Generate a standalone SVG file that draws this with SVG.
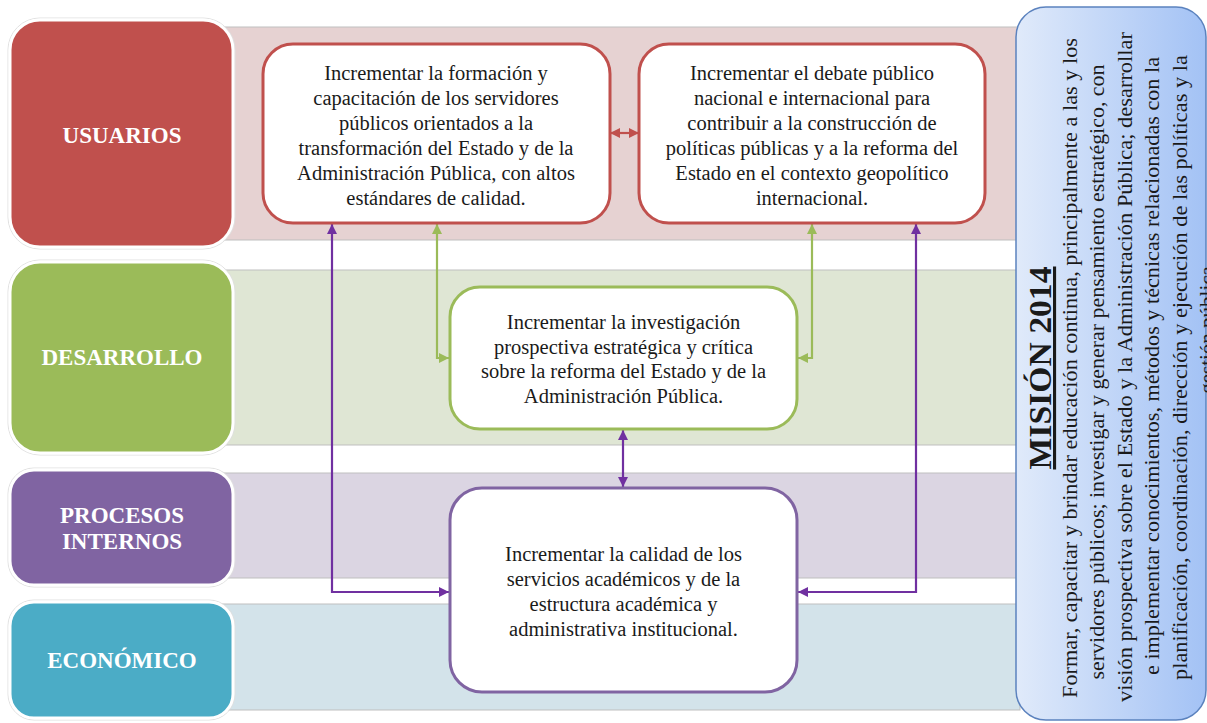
<svg xmlns="http://www.w3.org/2000/svg" width="1207" height="723" viewBox="0 0 1207 723">
<defs>
<style>
.band{stroke:#BFBFBF;stroke-width:1}
.cat{stroke:#FFFFFF;stroke-width:3}
.catlbl{font-family:"Liberation Serif","Times New Roman",serif;font-weight:bold;font-size:23px;fill:#FFFFFF;text-anchor:middle}
.node{fill:#FFFFFF;stroke-width:3}
.ntxt{font-family:"Liberation Serif","Times New Roman",serif;font-size:20.5px;fill:#1A1A1A;text-anchor:middle}
.conn{fill:none;stroke-width:2.2}
.mtxt{font-family:"Liberation Serif","Times New Roman",serif;font-size:21px;fill:#1A1A1A;text-anchor:middle}
</style>
<linearGradient id="mg" x1="0" y1="0" x2="1" y2="0">
<stop offset="0" stop-color="#E0EAFA"/>
<stop offset="1" stop-color="#A3C2F5"/>
</linearGradient>
<marker id="aR" viewBox="0 0 10 10" refX="10" refY="5" markerWidth="11" markerHeight="10" markerUnits="userSpaceOnUse" orient="auto-start-reverse"><path d="M0,0 L10,5 L0,10 z" fill="#C0504D"/></marker>
<marker id="aG" viewBox="0 0 10 10" refX="10" refY="5" markerWidth="11" markerHeight="10" markerUnits="userSpaceOnUse" orient="auto-start-reverse"><path d="M0,0 L10,5 L0,10 z" fill="#9BBB59"/></marker>
<marker id="aP" viewBox="0 0 10 10" refX="10" refY="5" markerWidth="11" markerHeight="10" markerUnits="userSpaceOnUse" orient="auto-start-reverse"><path d="M0,0 L10,5 L0,10 z" fill="#7030A0"/></marker>
</defs>
<rect width="1207" height="723" fill="#FFFFFF"/>

<g id="bands">
<rect class="band" x="220" y="27" width="800" height="213" fill="#E6D2D2"/>
<rect class="band" x="220" y="270" width="800" height="175" fill="#DFE6D4"/>
<rect class="band" x="220" y="473" width="800" height="105" fill="#DBD5E2"/>
<rect class="band" x="220" y="604" width="800" height="106" fill="#D3E3EA"/>
</g>

<g id="usuarios">
<rect x="8" y="18" width="227" height="231" rx="32" fill="none" stroke="#E0E0E0" stroke-width="1"/>
<rect class="cat" x="10" y="20" width="223" height="227" rx="30" fill="#C0504D"/>
<text class="catlbl" x="122" y="143">USUARIOS</text>
</g>
<g id="desarrollo">
<rect x="8" y="260" width="227" height="195" rx="32" fill="none" stroke="#E0E0E0" stroke-width="1"/>
<rect class="cat" x="10" y="262" width="223" height="191" rx="30" fill="#9BBB59"/>
<text class="catlbl" x="122" y="365">DESARROLLO</text>
</g>
<g id="procesos">
<rect x="8" y="468" width="227" height="119" rx="26" fill="none" stroke="#E0E0E0" stroke-width="1"/>
<rect class="cat" x="10" y="470" width="223" height="115" rx="24" fill="#8064A2"/>
<text class="catlbl" x="122" y="523">PROCESOS</text>
<text class="catlbl" x="122" y="549">INTERNOS</text>
</g>
<g id="economico">
<rect x="8" y="600" width="227" height="120" rx="26" fill="none" stroke="#E0E0E0" stroke-width="1"/>
<rect class="cat" x="10" y="602" width="223" height="116" rx="24" fill="#4BACC6"/>
<text class="catlbl" x="122" y="668">ECONÓMICO</text>
</g>

<g id="connectors">
<line class="conn" x1="610" y1="133" x2="639" y2="133" stroke="#C0504D" marker-start="url(#aR)" marker-end="url(#aR)"/>
<path class="conn" d="M437,224 V358 H449" stroke="#9BBB59" marker-start="url(#aG)" marker-end="url(#aG)"/>
<path class="conn" d="M812,224 V358 H798" stroke="#9BBB59" marker-start="url(#aG)" marker-end="url(#aG)"/>
<path class="conn" d="M332,224 V592 H449" stroke="#7030A0" marker-start="url(#aP)" marker-end="url(#aP)"/>
<path class="conn" d="M916,224 V592 H798" stroke="#7030A0" marker-start="url(#aP)" marker-end="url(#aP)"/>
<line class="conn" x1="623" y1="430" x2="623" y2="487" stroke="#7030A0" marker-start="url(#aP)" marker-end="url(#aP)"/>
</g>

<g id="obj1">
<rect class="node" x="263" y="44" width="347" height="179" rx="30" stroke="#C0504D"/>
<text class="ntxt" x="436" y="80">Incrementar la formación y</text>
<text class="ntxt" x="436" y="105">capacitación de los servidores</text>
<text class="ntxt" x="436" y="130">públicos orientados a la</text>
<text class="ntxt" x="436" y="155">transformación del Estado y de la</text>
<text class="ntxt" x="436" y="180">Administración Pública, con altos</text>
<text class="ntxt" x="436" y="205">estándares de calidad.</text>
</g>
<g id="obj2">
<rect class="node" x="639" y="44" width="346" height="179" rx="30" stroke="#C0504D"/>
<text class="ntxt" x="812" y="80">Incrementar el debate público</text>
<text class="ntxt" x="812" y="105">nacional e internacional para</text>
<text class="ntxt" x="812" y="130">contribuir a la construcción de</text>
<text class="ntxt" x="812" y="155">políticas públicas y a la reforma del</text>
<text class="ntxt" x="812" y="180">Estado en el contexto geopolítico</text>
<text class="ntxt" x="812" y="205">internacional.</text>
</g>
<g id="obj3">
<rect class="node" x="450" y="287" width="347" height="142" rx="30" stroke="#9BBB59"/>
<text class="ntxt" x="623.5" y="329">Incrementar la investigación</text>
<text class="ntxt" x="623.5" y="354">prospectiva estratégica y crítica</text>
<text class="ntxt" x="623.5" y="378">sobre la reforma del Estado y de la</text>
<text class="ntxt" x="623.5" y="403">Administración Pública.</text>
</g>
<g id="obj4">
<rect class="node" x="450" y="488" width="347" height="204" rx="32" stroke="#8064A2"/>
<text class="ntxt" x="623.5" y="561">Incrementar la calidad de los</text>
<text class="ntxt" x="623.5" y="586">servicios académicos y de la</text>
<text class="ntxt" x="623.5" y="611">estructura académica y</text>
<text class="ntxt" x="623.5" y="636">administrativa institucional.</text>
</g>

<g id="mision">
<rect x="1016" y="7" width="190" height="713" rx="30" fill="url(#mg)" stroke="#5B82BE" stroke-width="1.5"/>
<text transform="translate(1051,368) rotate(-90)" text-anchor="middle" font-family="'Liberation Serif','Times New Roman',serif" font-weight="bold" font-size="31" fill="#1A1A1A" text-decoration="underline" textLength="203" lengthAdjust="spacingAndGlyphs">MISIÓN  2014</text>
<text class="mtxt" transform="translate(1077,368) rotate(-90)" textLength="660" lengthAdjust="spacingAndGlyphs">Formar, capacitar y brindar educación continua, principalmente a las y los</text>
<text class="mtxt" transform="translate(1104.4,372) rotate(-90)" textLength="615" lengthAdjust="spacingAndGlyphs">servidores públicos; investigar y generar pensamiento estratégico, con</text>
<text class="mtxt" transform="translate(1131.8,367) rotate(-90)" textLength="670" lengthAdjust="spacingAndGlyphs">visión prospectiva sobre el Estado y la Administración Pública; desarrollar</text>
<text class="mtxt" transform="translate(1159.2,366) rotate(-90)" textLength="618" lengthAdjust="spacingAndGlyphs">e implementar conocimientos, métodos y técnicas relacionadas con la</text>
<text class="mtxt" transform="translate(1186.6,367.5) rotate(-90)" textLength="625" lengthAdjust="spacingAndGlyphs">planificación, coordinación, dirección y ejecución de las políticas y la</text>
<text class="mtxt" transform="translate(1214,330) rotate(-90)">gestión pública</text>
</g>
</svg>
